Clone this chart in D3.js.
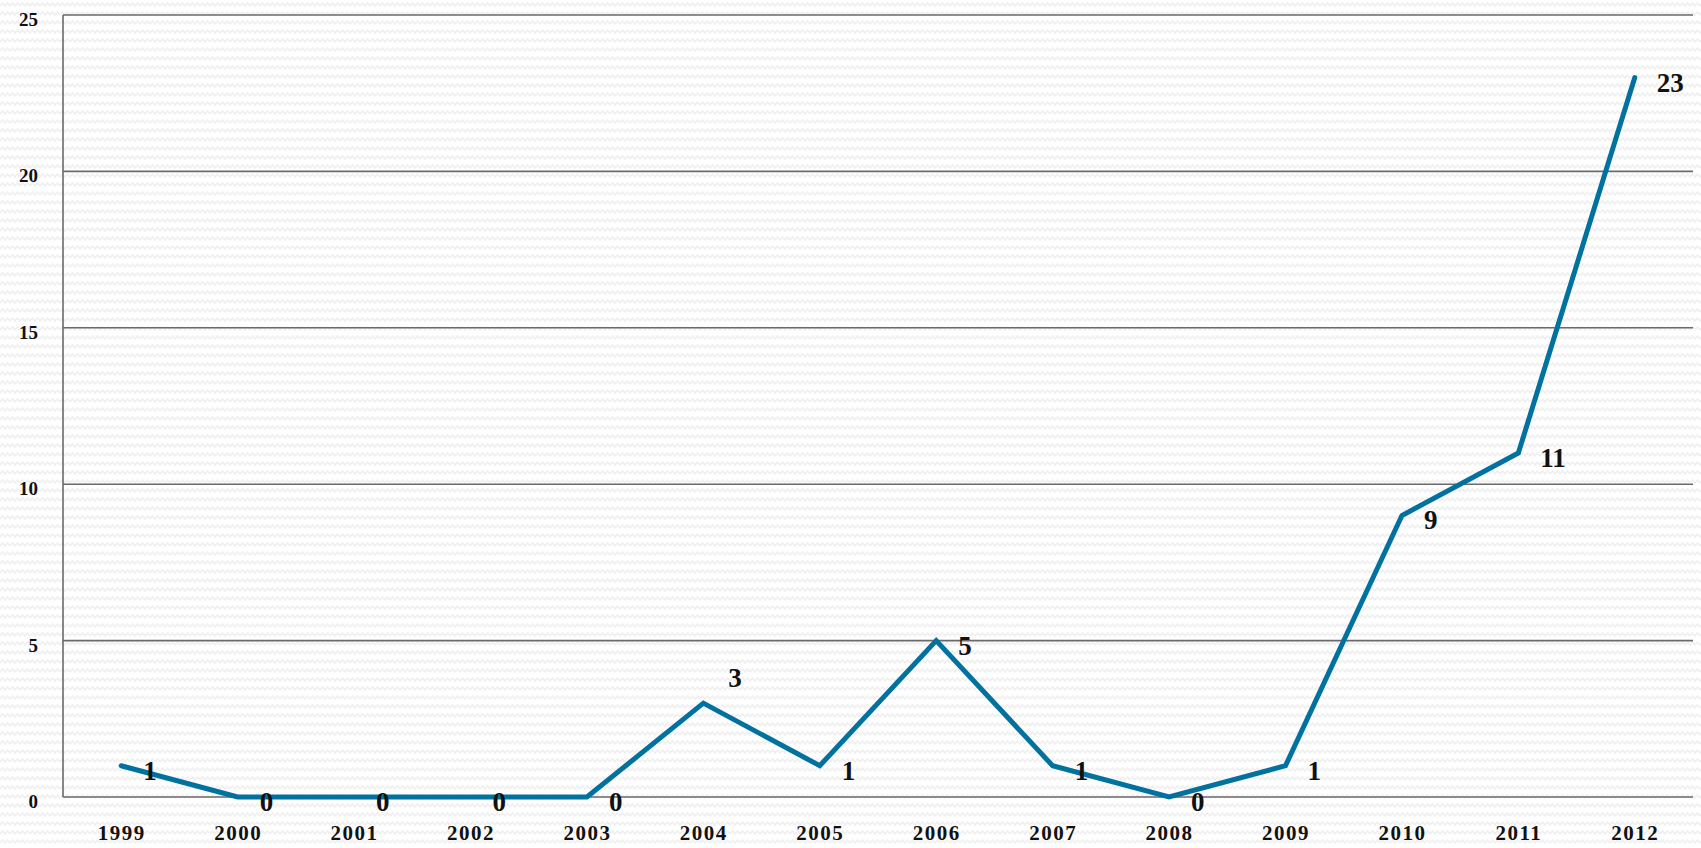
<!DOCTYPE html>
<html><head><meta charset="utf-8">
<script src="https://cdn.jsdelivr.net/npm/d3@7"></script>
<style>
html,body{margin:0;padding:0;background:#fff;}
text{font-family:"Liberation Serif","DejaVu Serif",serif;font-variant-numeric:oldstyle-nums;fill:#111;}
</style></head><body>
<svg id="c" width="1701" height="848"></svg>
<script>
const years = ["1999","2000","2001","2002","2003","2004","2005","2006","2007","2008","2009","2010","2011","2012"];
const counts = [1,0,0,0,0,3,1,5,1,0,1,9,11,23];
const yTicks = [0,5,10,15,20,25];

const W = 1701, H = 848;
const m = {left:63, right:8, top:15, bottom:51};
const svg = d3.select("#c");

// background zigzag texture
const defs = svg.append("defs");
const pat = defs.append("pattern").attr("id","zz").attr("patternUnits","userSpaceOnUse")
  .attr("width",10).attr("height",9);
pat.append("rect").attr("width",10).attr("height",9).attr("fill","#fff");
pat.append("path").attr("d","M0,6 L2.5,3 L5,6 L7.5,3 L10,6").attr("fill","none")
  .attr("stroke","#efefef").attr("stroke-width",1.6);
svg.append("rect").attr("width",W).attr("height",H).attr("fill","url(#zz)");

const x = d3.scalePoint().domain(years).range([m.left, W - m.right]).padding(0.5);
const y = d3.scaleLinear().domain([0,25]).range([H - m.bottom, m.top]);

// gridlines
svg.append("g").selectAll("line").data(yTicks).join("line")
  .attr("x1", m.left).attr("x2", W - m.right)
  .attr("y1", d => y(d)).attr("y2", d => y(d))
  .attr("stroke","#6a6a6a").attr("stroke-width",1.6);
// left axis line
svg.append("line").attr("x1",m.left).attr("x2",m.left)
  .attr("y1",y(25)).attr("y2",y(0)).attr("stroke","#6a6a6a").attr("stroke-width",1.6);

// y tick labels
const yAxis = d3.axisLeft(y).tickValues(yTicks).tickSize(0).tickPadding(25);
const gy = svg.append("g").attr("transform",`translate(${m.left},0)`).call(yAxis);
gy.select(".domain").remove();
gy.selectAll("text").attr("font-size",19).attr("font-weight","bold")
  .attr("font-family","Liberation Serif, serif").attr("fill","#111").attr("dy","0.55em");

// x tick labels
const xAxis = d3.axisBottom(x).tickSize(0).tickPadding(0);
const gx = svg.append("g").attr("transform",`translate(0,${H-8})`).call(xAxis);
gx.select(".domain").remove();
gx.selectAll("text").attr("font-size",21).attr("font-weight","bold")
  .attr("font-family","Liberation Serif, serif").attr("fill","#111")
  .attr("dy",null).attr("letter-spacing",1.5);

// line
const line = d3.line().x((d,i) => x(years[i])).y(d => y(d));
svg.append("path").datum(counts).attr("d", line).attr("fill","none")
  .attr("stroke","#0172a0").attr("stroke-width",5).attr("stroke-linejoin","miter")
  .attr("stroke-linecap","round");

// data labels (right of point; one above-right where the line rises away)
const aboveLabels = new Set(["2004"]);
svg.append("g").selectAll("text").data(counts).join("text")
  .attr("x", (d,i) => x(years[i]) + (aboveLabels.has(years[i]) ? 25 : 22))
  .attr("y", (d,i) => y(d) + (aboveLabels.has(years[i]) ? -16 : 14))
  .attr("font-size",27).attr("font-weight","bold")
  .attr("font-family","Liberation Serif, serif")
  .text(d => d);
</script>
</body></html>
